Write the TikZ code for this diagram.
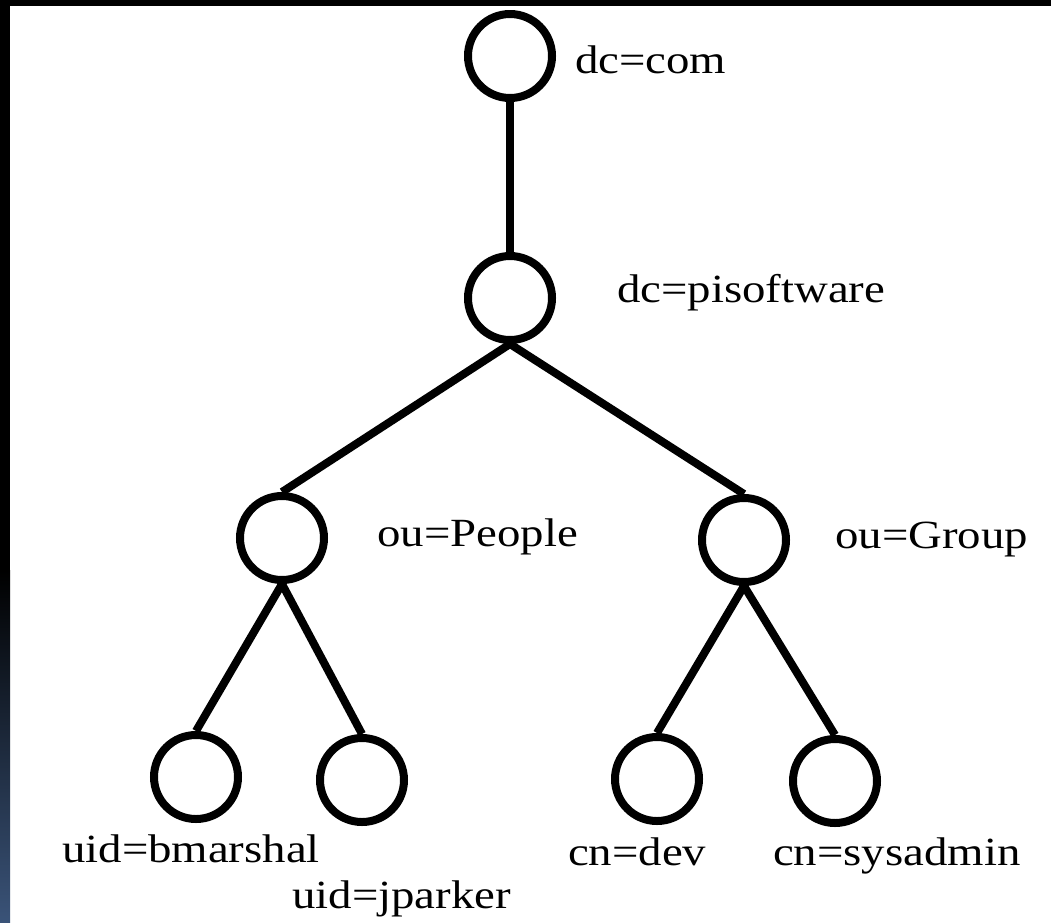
\documentclass[tikz,border=0pt]{standalone}
\usepackage{fontspec}
\setmainfont{Liberation Serif}[FakeStretch=1.17]
\definecolor{edgeblue}{RGB}{58,83,120}
\tikzset{
  entry/.style={circle, draw, line width=8pt, minimum size=84pt, inner sep=0pt},
  dnlabel/.style={anchor=base west, inner sep=0pt, font=\fontsize{40}{48}\selectfont},
  branch/.style={line width=8pt}
}
\begin{document}
\begin{tikzpicture}[x=1pt, y=-1pt]
  % page with the dark strip along the left and top edge
  \useasboundingbox (0,0) rectangle (1051,922);
  \fill[white] (0,0) rectangle (1051,922);
  \fill[black] (0,0) rectangle (1051,6);
  \fill[black] (0,0) rectangle (10,570);
  \shade[top color=black, bottom color=edgeblue] (0,570) rectangle (10,922);

  % directory entries
  \node[entry] (com) at (510,56) {};
  \node[entry] (piso) at (510,298) {};
  \node[entry] (people) at (282,538) {};
  \node[entry] (group) at (744,540) {};
  \node[entry] (bmarshal) at (196,777) {};
  \node[entry] (jparker) at (362,780) {};
  \node[entry] (dev) at (657,779) {};
  \node[entry] (sysadmin) at (835,781) {};

  % their names
  \node[dnlabel] (comlabel) at (575,73) {dc=com};
  \node[dnlabel] (pisolabel) at (617,302) {dc=pisoftware};
  \node[dnlabel] (peoplelabel) at (377,546) {ou=People};
  \node[dnlabel] (grouplabel) at (835,548) {ou=Group};
  \node[dnlabel] (bmarshallabel) at (62,862) {uid=bmarshal};
  \node[dnlabel] (jparkerlabel) at (292,908) {uid=jparker};
  \node[dnlabel] (devlabel) at (568,865) {cn=dev};
  \node[dnlabel] (sysadminlabel) at (773,865) {cn=sysadmin};

  % tree edges
  \draw[branch] (com) -- (piso);
  \draw[branch] (piso.south) -- (people.north);
  \draw[branch] (piso.south) -- (group.north);
  \draw[branch] (people.south) -- (bmarshal.north);
  \draw[branch] (people.south) -- (jparker.north);
  \draw[branch] (group.south) -- (dev.north);
  \draw[branch] (group.south) -- (sysadmin.north);
\end{tikzpicture}
\end{document}
